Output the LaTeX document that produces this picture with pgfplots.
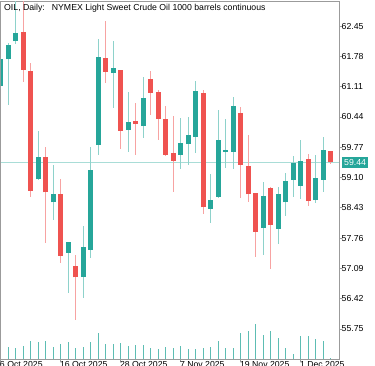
\documentclass[border=0pt]{standalone}
\usepackage{fontspec}
\setmainfont{Liberation Sans}
\usepackage{pgfplots}
\pgfplotsset{compat=1.18}
\usepackage{pgfplotstable}
\definecolor{bull}{HTML}{26A69A}
\definecolor{bear}{HTML}{EF5350}
\definecolor{bullw}{HTML}{8ED2CB}
\definecolor{bearw}{HTML}{F7A3A2}
\definecolor{vol}{HTML}{5DBDB3}
\definecolor{framec}{HTML}{9B9B9B}
\definecolor{pline}{HTML}{A9DDD7}

\pgfplotstableread{
i o h l c
0 61.13 61.75 61.05 61.70
1 61.72 62.07 60.71 62.01
2 62.11 63.05 62.05 62.27
5 59.06 60.13 59.04 59.53
7 58.55 59.38 58.16 58.71
9 57.44 57.67 56.55 57.65
11 56.91 58.03 56.43 57.54
12 57.50 59.78 57.31 59.25
13 59.82 62.16 59.60 61.74
15 61.41 62.13 60.63 61.50
17 60.15 60.99 59.67 60.31
19 60.24 61.33 59.97 60.83
24 59.60 60.42 59.29 59.84
25 59.84 60.43 59.38 60.02
26 60.00 61.24 59.64 61.00
28 58.40 59.18 58.09 58.59
29 58.68 60.59 58.65 59.91
30 59.67 60.39 59.31 59.70
31 59.67 60.88 59.28 60.67
35 57.98 59.01 57.39 58.68
37 57.97 58.90 57.62 58.71
38 58.55 59.19 58.25 59.01
39 59.05 59.58 58.68 59.40
40 58.92 59.93 58.62 59.45
42 58.60 59.60 58.53 59.06
43 59.05 60.00 58.79 59.69
}\bulltab

\pgfplotstableread{
i o h l c
3 62.29 63.05 61.22 61.48
4 61.44 61.64 58.66 58.81
6 59.54 59.78 57.65 58.77
8 58.71 59.06 57.22 57.37
10 57.13 57.39 55.95 56.89
14 61.72 62.57 61.19 61.44
16 61.46 61.48 59.73 60.14
18 60.34 60.74 59.61 60.28
20 61.26 61.46 60.48 60.98
21 60.98 61.04 59.93 60.39
22 60.37 60.68 59.58 59.60
23 59.62 60.46 58.79 59.47
27 60.96 61.04 58.29 58.44
32 60.50 60.65 58.64 59.38
33 59.33 60.04 58.57 58.73
34 58.73 58.75 57.35 57.90
36 58.85 58.90 57.07 58.05
41 59.49 59.62 58.46 58.58
44 59.67 59.68 59.40 59.44
}\beartab

\pgfplotstableread{
i v
1 12.8
2 11.2
3 13.5
4 18.5
5 17.5
6 18.2
7 12.2
8 15.2
9 17.5
10 11.5
11 12.8
12 17.2
13 26.2
14 15.2
15 15.5
16 16.5
17 13.5
18 14.2
19 14.2
20 11.8
21 10.8
22 12.2
23 11.5
24 13.5
25 10.8
26 10.5
27 11.8
28 12.8
29 18.5
30 11.5
31 11.2
32 26.2
33 28.8
34 35.8
35 24.2
36 28.5
37 21.8
38 11.2
39 5.8
40 23.2
41 23.2
42 20.2
43 18.5
44 1.8
}\voltab

\newcommand\chartfont{\fontsize{8.75}{10}\selectfont}

\begin{document}
\begin{tikzpicture}
% volume overlay
\begin{axis}[
  at={(-0.7bp,0bp)}, anchor=south west,
  scale only axis, width=338.2bp, height=358bp,
  xmin=0, xmax=45.093, ymin=0, ymax=358,
  hide axis]
\addplot[ycomb, draw=vol, line width=1bp, mark=none] table[x=i, y=v] {\voltab};
\end{axis}
% price axis
\begin{axis}[
  at={(-0.7bp,0bp)}, anchor=south west,
  scale only axis, width=338.2bp, height=358bp,
  xmin=0, xmax=45.093, ymin=55.075, ymax=62.995,
  axis line style={draw=framec, line width=1bp},
  ytick={55.75,56.42,57.09,57.76,58.43,59.10,59.77,60.44,61.11,61.78,62.45},
  yticklabel pos=right, ytick pos=right,
  xtick={0,8,16,24,32,40},
  xticklabels={6 Oct 2025,16 Oct 2025,28 Oct 2025,7 Nov 2025,19 Nov 2025,1 Dec 2025},
  xtick pos=bottom,
  tick align=outside, major tick length=2.5bp,
  tick style={draw=framec, line width=0.8bp},
  minor tick num=0,
  yticklabel style={anchor=west, inner sep=0pt, font=\chartfont, text=black},
  xticklabel style={anchor=north west, inner sep=0pt, font=\chartfont, text=black, xshift=-1bp, yshift=1bp},
  /pgf/number format/fixed, /pgf/number format/fixed zerofill,
  /pgf/number format/precision=2, /pgf/number format/assume math mode=true,
  ]
% price line
\addplot[draw=pline, line width=1bp, mark=none] coordinates {(0,59.44) (45.093,59.44)};
% bull wicks
\addplot[draw=none, mark=none,
  error bars/.cd, y dir=both, y explicit, error mark=none,
  error bar style={draw=bullw, line width=1.1bp}]
  table[x=i, y=o, y error plus expr=\thisrow{h}-\thisrow{o}, y error minus expr=\thisrow{o}-\thisrow{l}] {\bulltab};
% bear wicks
\addplot[draw=none, mark=none,
  error bars/.cd, y dir=both, y explicit, error mark=none,
  error bar style={draw=bearw, line width=1.1bp}]
  table[x=i, y=o, y error plus expr=\thisrow{h}-\thisrow{o}, y error minus expr=\thisrow{o}-\thisrow{l}] {\beartab};
% bull bodies
\addplot[draw=none, mark=none,
  error bars/.cd, y dir=plus, y explicit, error mark=none,
  error bar style={draw=bull, line width=5bp}]
  table[x=i, y=o, y error plus expr=\thisrow{c}-\thisrow{o}+0.02] {\bulltab};
% bear bodies
\addplot[draw=none, mark=none,
  error bars/.cd, y dir=plus, y explicit, error mark=none,
  error bar style={draw=bear, line width=5bp}]
  table[x=i, y=c, y error plus expr=\thisrow{o}-\thisrow{c}+0.02] {\beartab};
\coordinate (pl) at (axis cs:45.093,59.44);
\end{axis}
\node[anchor=west, fill=bull, text=white, font=\chartfont, inner xsep=2.3bp, inner ysep=2.3bp,
  text height=6.3bp, text depth=0pt, xshift=2.7bp] at (pl) {59.44};
\node[anchor=base west, inner sep=0pt, font=\chartfont] at (2.5bp,348.5bp)
  {OIL, Daily:\hspace{7bp}NYMEX Light Sweet Crude Oil 1000 barrels continuous};
\pgfresetboundingbox
\path[use as bounding box] (-1.5bp,-6.5bp) rectangle (373.5bp,359.5bp);
\end{tikzpicture}
\end{document}
